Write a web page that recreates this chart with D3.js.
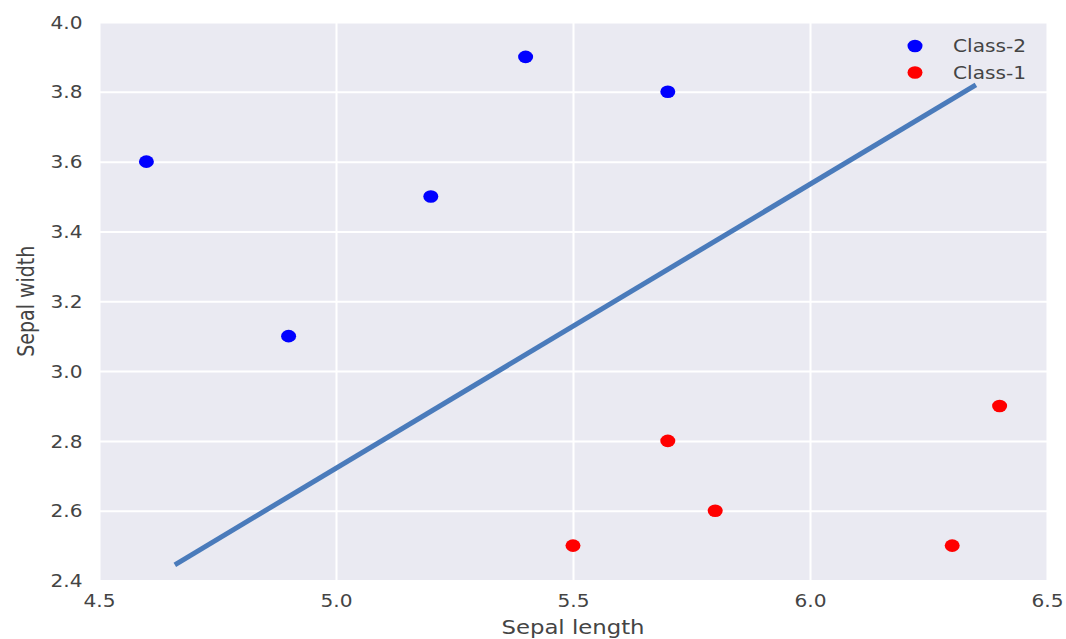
<!DOCTYPE html>
<html><head><meta charset="utf-8">
<script src="https://cdn.jsdelivr.net/npm/d3@7"></script>
<style>body{margin:0;background:#fff}svg{display:block}text{font-family:"DejaVu Sans",sans-serif;fill:#444}</style>
</head><body><svg id="c" width="1066" height="639"></svg>
<script>
const class2X = [4.6, 4.9, 5.2, 5.4, 5.7];
const class2Y = [3.6, 3.1, 3.5, 3.9, 3.8];
const class1X = [5.5, 5.7, 5.8, 6.3, 6.4];
const class1Y = [2.5, 2.8, 2.6, 2.5, 2.9];
const lineX = [4.66, 6.35];
const lineY = [2.445, 3.82];
const xTicks = [4.5, 5.0, 5.5, 6.0, 6.5];
const yTicks = [2.4, 2.6, 2.8, 3.0, 3.2, 3.4, 3.6, 3.8, 4.0];
const legendLabels = ["Class-2", "Class-1"];
const legendColors = ["#0000ff", "#ff0000"];

const sx = 1.2, tsx = 1.15, tfs = 17.5;
const svg = d3.select("#c");
const L = 99, R = 1047, T = 22, B = 580.5;
const x = d3.scaleLinear().domain([4.5, 6.5]).range([L, R]);
const y = d3.scaleLinear().domain([2.4, 4.0]).range([B, T]);

svg.append("rect").attr("x", L).attr("y", T).attr("width", R - L).attr("height", B - T).attr("fill", "#eaeaf2");

const xAxis = d3.axisBottom(x).tickValues(xTicks).tickFormat(d3.format(".1f")).tickSize(-(B - T)).tickPadding(0);
const gx = svg.append("g").attr("transform", `translate(0,${B})`).call(xAxis);
gx.select(".domain").remove();
gx.selectAll(".tick line").attr("stroke", "#fff").attr("stroke-width", 2);
gx.selectAll(".tick text").attr("y", 0).attr("dy", 0)
  .attr("transform", `translate(0,26.5) scale(${tsx},1)`)
  .attr("font-size", tfs).attr("fill", "#444").attr("text-anchor", "middle");

const yAxis = d3.axisLeft(y).tickValues(yTicks).tickFormat(d3.format(".1f")).tickSize(-(R - L)).tickPadding(0);
const gy = svg.append("g").attr("transform", `translate(${L},0)`).call(yAxis);
gy.select(".domain").remove();
gy.selectAll(".tick line").attr("stroke", "#fff").attr("stroke-width", 2);
gy.selectAll(".tick text").attr("x", 0).attr("dy", "0.35em")
  .attr("transform", `translate(-16.5,0) scale(${tsx},1)`)
  .attr("font-size", tfs).attr("fill", "#444").attr("text-anchor", "end");

const line = d3.line().x(d => x(d[0])).y(d => y(d[1]));
svg.append("path").datum(lineX.map((v, i) => [v, lineY[i]]))
  .attr("d", line).attr("fill", "none").attr("stroke", "#4a7bbb").attr("stroke-width", 5);

function pts(xs, ys, color) {
  svg.append("g").selectAll("ellipse").data(xs.map((v, i) => [v, ys[i]])).join("ellipse")
    .attr("cx", d => x(d[0])).attr("cy", d => y(d[1])).attr("rx", 7.5).attr("ry", 6.3).attr("fill", color);
}
pts(class2X, class2Y, legendColors[0]);
pts(class1X, class1Y, legendColors[1]);

const lg = svg.append("g");
legendLabels.forEach((lab, i) => {
  const cy = 46 + i * 26.5;
  lg.append("ellipse").attr("cx", 915).attr("cy", cy).attr("rx", 7.5).attr("ry", 6.3).attr("fill", legendColors[i]);
  lg.append("text").attr("transform", `translate(953,${cy}) scale(${tsx},1)`).attr("dy", "0.35em")
    .attr("font-size", tfs).text(lab);
});

svg.append("text").attr("transform", `translate(${(L + R) / 2},634) scale(${sx},1)`)
  .attr("text-anchor", "middle").attr("font-size", 19).text("Sepal length");
svg.append("text").attr("transform", `translate(34,${(T + B) / 2}) scale(${sx},1) rotate(-90)`)
  .attr("text-anchor", "middle").attr("font-size", 19).text("Sepal width");
</script></body></html>
